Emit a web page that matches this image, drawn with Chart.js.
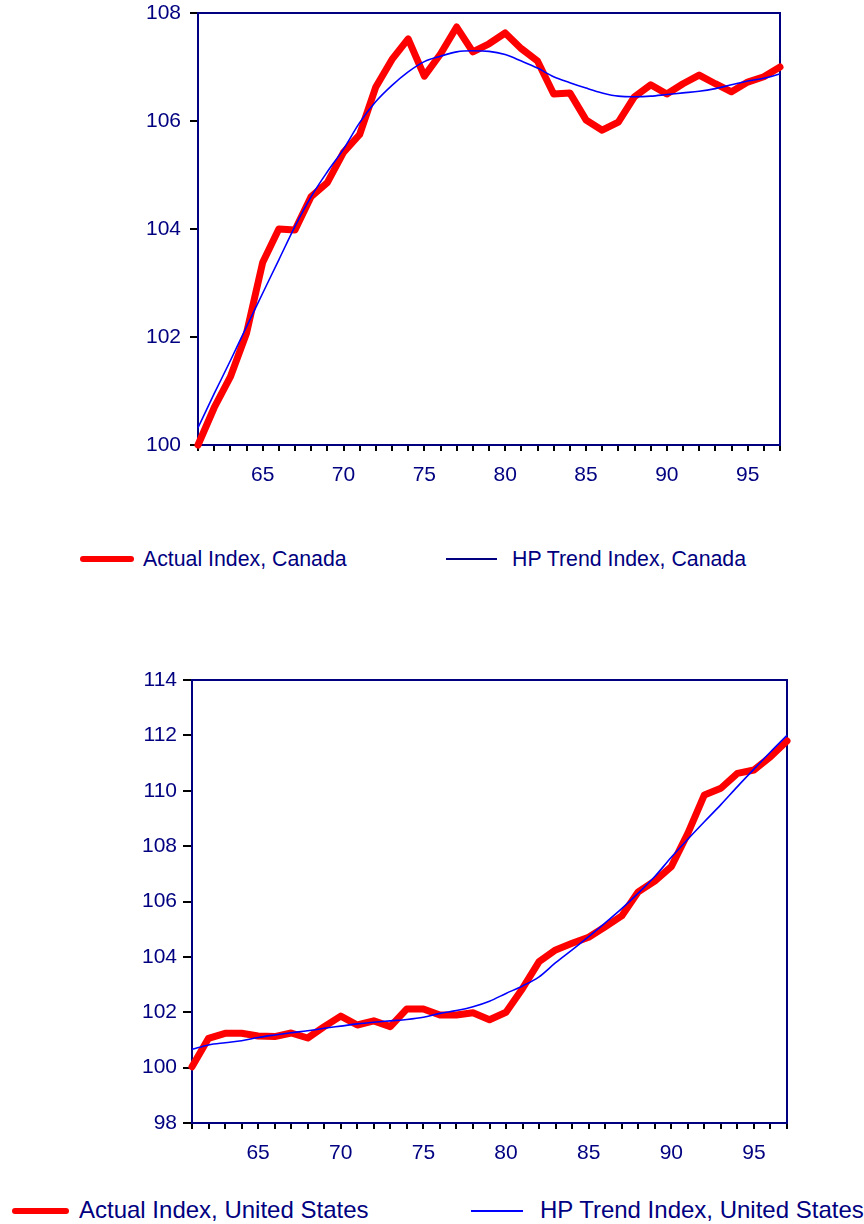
<!DOCTYPE html>
<html>
<head>
<meta charset="utf-8">
<script src="https://cdn.jsdelivr.net/npm/chart.js@4/dist/chart.umd.min.js"></script>
<style>
  html, body { margin: 0; padding: 0; background: #ffffff; }
  body { width: 864px; height: 1224px; position: relative; overflow: hidden;
         font-family: "Liberation Sans", Arial, sans-serif; }
  .box { position: absolute; left: 0; }
  .key-line { position: absolute; }
  .key-text { position: absolute; line-height: 24px; color: #000080; white-space: nowrap; }
  .key-ca { font-size: 21.3px; }
  .key-us { font-size: 24px; }
</style>
</head>
<body>
<div class="box" style="top:-10px;width:864px;height:520px"><canvas id="canada" width="864" height="520"></canvas></div>
<div class="box" style="top:640px;width:864px;height:540px"><canvas id="us" width="864" height="540"></canvas></div>

<div class="key-line" style="left:80px;top:556px;width:54px;height:6px;border-radius:3px;background:#ff0000"></div>
<div class="key-text key-ca" style="left:143px;top:547px">Actual Index, Canada</div>
<div class="key-line" style="left:446px;top:558px;width:51px;height:2px;background:#000080"></div>
<div class="key-text key-ca" style="left:512px;top:547px">HP Trend Index, Canada</div>

<div class="key-line" style="left:12px;top:1208px;width:57px;height:6px;border-radius:3px;background:#ff0000"></div>
<div class="key-text key-us" style="left:79px;top:1198px">Actual Index, United States</div>
<div class="key-line" style="left:471px;top:1210px;width:52px;height:2px;background:#0000ff"></div>
<div class="key-text key-us" style="left:540px;top:1198px">HP Trend Index, United States</div>

<script>
// Years (19xx) shown on the horizontal axis
const years = ['61','62','63','64','65','66','67','68','69','70','71','72','73','74','75','76','77','78','79',
               '80','81','82','83','84','85','86','87','88','89','90','91','92','93','94','95','96','97'];

// Canada: actual index and Hodrick-Prescott trend
const canadaActual = [100.0, 100.69, 101.26, 102.07, 103.38, 104.0, 103.98, 104.6, 104.86, 105.42,
                      105.75, 106.63, 107.14, 107.52, 106.83, 107.24, 107.74, 107.28, 107.43, 107.63,
                      107.34, 107.11, 106.5, 106.52, 106.02, 105.83, 105.98, 106.45, 106.67, 106.5,
                      106.69, 106.85, 106.69, 106.54, 106.72, 106.82, 107.0];
const canadaTrend = [100.32, 100.95, 101.56, 102.19, 102.81, 103.43, 104.05, 104.6, 105.06, 105.48,
                     105.97, 106.36, 106.66, 106.91, 107.1, 107.2, 107.28, 107.3, 107.29, 107.23,
                     107.11, 106.98, 106.82, 106.71, 106.61, 106.52, 106.46, 106.45, 106.46, 106.49,
                     106.52, 106.55, 106.6, 106.67, 106.74, 106.79, 106.87];

// United States: actual index and Hodrick-Prescott trend
const usActual = [100.03, 101.06, 101.24, 101.24, 101.14, 101.12, 101.25, 101.07, 101.48, 101.86,
                  101.54, 101.69, 101.48, 102.12, 102.12, 101.9, 101.9, 101.98, 101.73, 102.0,
                  102.86, 103.83, 104.25, 104.49, 104.71, 105.09, 105.48, 106.35, 106.74, 107.26,
                  108.46, 109.85, 110.09, 110.63, 110.75, 111.23, 111.8];
const usTrend = [100.66, 100.82, 100.9, 100.97, 101.09, 101.18, 101.26, 101.33, 101.42, 101.5,
                 101.58, 101.64, 101.69, 101.74, 101.82, 101.96, 102.06, 102.2, 102.4, 102.68,
                 102.95, 103.28, 103.79, 104.25, 104.73, 105.23, 105.74, 106.3, 106.9, 107.6,
                 108.25, 108.88, 109.5, 110.15, 110.78, 111.4, 112.0];

// Vertical axis ranges
const canadaYTicks = { min: 100, max: 108, step: 2 };
const usYTicks = { min: 98, max: 114, step: 2 };

const NAVY = '#000080';
const FONT = { family: '"Liberation Sans", Arial, sans-serif', size: 21 };

// closes the plot frame on the top and right sides
const framePlugin = {
  id: 'frame',
  beforeDatasetsDraw(chart) {
    const { ctx, chartArea: a } = chart;
    ctx.save();
    ctx.strokeStyle = NAVY;
    ctx.lineWidth = 2;
    ctx.beginPath();
    ctx.moveTo(a.left, a.top);
    ctx.lineTo(a.right, a.top);
    ctx.lineTo(a.right, a.bottom);
    ctx.stroke();
    ctx.restore();
  }
};

function makeChart(id, actual, trend, yr, opts) {
  return new Chart(document.getElementById(id), {
    type: 'line',
    data: {
      labels: years,
      datasets: [
        { data: trend, borderColor: '#0000ff', borderWidth: 1.6, pointRadius: 0,
          cubicInterpolationMode: 'monotone', fill: false },
        { data: actual, borderColor: '#ff0000', borderWidth: 7, pointRadius: 0,
          tension: 0, borderJoinStyle: 'round', borderCapStyle: 'round', fill: false, clip: false }
      ]
    },
    options: {
      responsive: false,
      animation: false,
      devicePixelRatio: 1,
      layout: { padding: opts.padding },
      plugins: { legend: { display: false }, tooltip: { enabled: false } },
      scales: {
        x: {
          type: 'category',
          offset: false,
          grid: { display: true, drawOnChartArea: false, drawTicks: true, tickLength: 6,
                  color: '#000000', lineWidth: 2 },
          border: { display: true, color: NAVY, width: 2 },
          ticks: {
            autoSkip: false, maxRotation: 0, padding: 12, color: NAVY, font: FONT,
            callback: function (v) { const s = this.getLabelForValue(v); return (+s % 5 === 0) ? s : ''; }
          },
          afterFit: s => { s.height = 40; }
        },
        y: {
          min: yr.min, max: yr.max,
          grid: { display: true, drawOnChartArea: false, drawTicks: true, tickLength: opts.yTick,
                  color: '#000000', lineWidth: 2 },
          border: { display: true, color: NAVY, width: 2 },
          ticks: { stepSize: yr.step, padding: opts.yPad, color: NAVY, font: FONT },
          afterFit: s => { s.width = opts.yWidth; }
        }
      }
    },
    plugins: [framePlugin]
  });
}

makeChart('canada', canadaActual, canadaTrend, canadaYTicks,
  { padding: { left: 0, top: 23, right: 84, bottom: 25 }, yWidth: 198, yTick: 8, yPad: 9 });
makeChart('us', usActual, usTrend, usYTicks,
  { padding: { left: 0, top: 40, right: 77, bottom: 17 }, yWidth: 192, yTick: 9, yPad: 6 });
</script>
</body>
</html>
